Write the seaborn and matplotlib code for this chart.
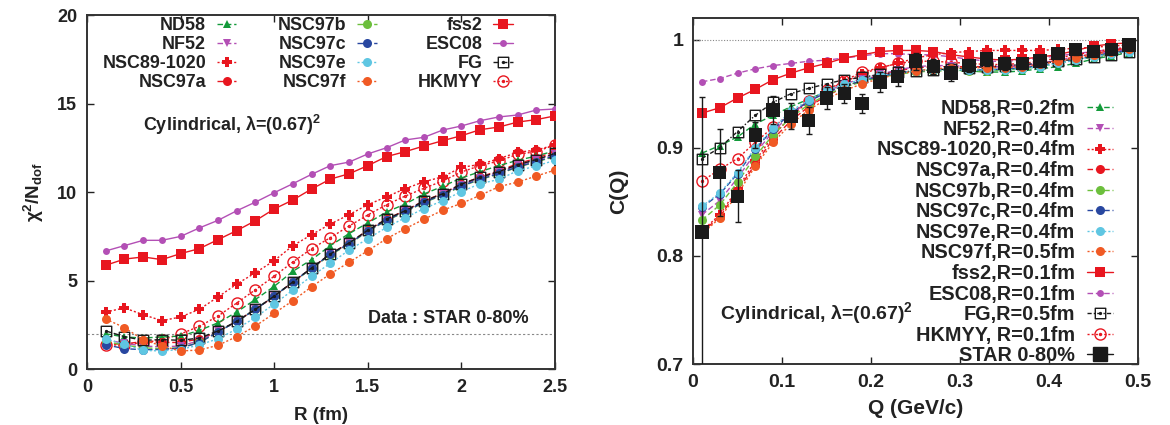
import matplotlib
matplotlib.use("Agg")
import matplotlib.pyplot as plt
from matplotlib.lines import Line2D
from matplotlib.path import Path
import seaborn as sns

# ---------------- chi^2 / N_dof versus source radius R ----------------
R = [0.1, 0.2, 0.3, 0.4, 0.5, 0.6, 0.7, 0.8, 0.9, 1.0, 1.1, 1.2, 1.3,
     1.4, 1.5, 1.6, 1.7, 1.8, 1.9, 2.0, 2.1, 2.2, 2.3, 2.4, 2.5]

chi_ND58 = [1.99, 1.81, 1.75, 1.81, 1.86, 2.18, 2.61, 3.22, 3.93, 4.67, 5.52, 6.18, 6.97,
            7.65, 8.25, 8.87, 9.32, 9.89, 10.32, 10.79, 11.15, 11.49, 11.79, 12.03, 12.33]
chi_NF52 = [1.65, 1.45, 1.30, 1.25, 1.30, 1.60, 2.12, 2.70, 3.38, 4.10, 4.90, 5.70, 6.48,
            7.10, 7.82, 8.44, 8.92, 9.46, 9.88, 10.42, 10.80, 11.12, 11.50, 11.80, 12.15]
chi_NSC89 = [3.22, 3.45, 3.07, 2.73, 2.94, 3.37, 4.07, 4.80, 5.44, 6.12, 6.97, 7.59, 8.19,
             8.72, 9.28, 9.73, 10.19, 10.58, 10.86, 11.39, 11.56, 11.88, 12.24, 12.37, 12.66]
chi_NSC97a = [1.40, 1.42, 1.55, 1.50, 1.50, 1.70, 2.10, 2.70, 3.38, 4.10, 4.92, 5.70, 6.50,
              7.12, 7.84, 8.47, 8.96, 9.50, 9.92, 10.45, 10.85, 11.20, 11.60, 11.90, 12.30]
chi_NSC97b = [1.55, 1.35, 1.20, 1.15, 1.20, 1.50, 2.10, 2.70, 3.38, 4.12, 4.90, 5.68, 6.45,
              7.05, 7.78, 8.38, 8.88, 9.40, 9.82, 10.32, 10.70, 11.02, 11.40, 11.70, 12.00]
chi_NSC97c = [1.37, 1.15, 1.09, 1.10, 1.19, 1.49, 2.09, 2.69, 3.37, 4.12, 4.92, 5.70, 6.48,
              7.08, 7.80, 8.40, 8.90, 9.42, 9.85, 10.35, 10.72, 11.05, 11.42, 11.72, 12.05]
chi_NSC97e = [1.71, 1.39, 1.05, 1.02, 1.10, 1.36, 1.71, 2.26, 2.92, 3.67, 4.46, 5.25, 5.97,
              6.72, 7.36, 8.00, 8.55, 9.06, 9.51, 10.02, 10.47, 10.71, 11.20, 11.47, 11.79]
chi_NSC97f = [2.82, 2.34, 1.65, 1.30, 1.02, 1.07, 1.34, 1.83, 2.43, 3.15, 3.86, 4.65, 5.37,
              6.03, 6.68, 7.36, 7.93, 8.46, 8.97, 9.36, 9.81, 10.30, 10.56, 10.90, 11.24]
chi_fss2 = [5.86, 6.21, 6.33, 6.18, 6.52, 6.80, 7.31, 7.82, 8.38, 9.04, 9.55, 10.17, 10.73,
            11.03, 11.49, 12.00, 12.28, 12.60, 12.90, 13.18, 13.52, 13.67, 13.95, 14.09, 14.30]
chi_ESC08 = [6.67, 6.97, 7.27, 7.27, 7.49, 7.97, 8.40, 8.94, 9.43, 9.96, 10.47, 11.00, 11.49,
             11.69, 12.15, 12.50, 12.94, 13.09, 13.50, 13.73, 14.03, 14.24, 14.35, 14.63, 14.69]
chi_FG = [2.15, 1.83, 1.62, 1.66, 1.62, 1.75, 2.15, 2.69, 3.37, 4.12, 4.92, 5.71, 6.50,
          7.12, 7.84, 8.47, 8.94, 9.49, 9.90, 10.45, 10.83, 11.15, 11.54, 11.83, 12.18]
chi_HKMYY = [1.35, 1.37, 1.50, 1.64, 1.98, 2.41, 2.99, 3.73, 4.48, 5.24, 6.05, 6.80, 7.42,
             8.08, 8.70, 9.28, 9.77, 10.21, 10.62, 11.13, 11.49, 11.75, 12.13, 12.28, 12.66]

# ---------------- correlation function C(Q) ----------------
Q = [0.01, 0.03, 0.05, 0.07, 0.09, 0.11, 0.13, 0.15, 0.17, 0.19, 0.21, 0.23, 0.25,
     0.27, 0.29, 0.31, 0.33, 0.35, 0.37, 0.39, 0.41, 0.43, 0.45, 0.47, 0.49]

c_ND58 = [0.895, 0.902, 0.910, 0.922, 0.930, 0.938, 0.945, 0.952, 0.957, 0.962, 0.966, 0.969, 0.971,
          0.972, 0.972, 0.971, 0.970, 0.970, 0.971, 0.973, 0.975, 0.978, 0.982, 0.985, 0.988]
c_NF52 = [0.838, 0.851, 0.872, 0.895, 0.915, 0.931, 0.943, 0.952, 0.959, 0.964, 0.968, 0.972, 0.975,
          0.976, 0.976, 0.975, 0.975, 0.975, 0.976, 0.978, 0.981, 0.984, 0.987, 0.989, 0.991]
c_NSC89 = [0.823, 0.838, 0.862, 0.888, 0.911, 0.929, 0.943, 0.953, 0.961, 0.968, 0.974, 0.978, 0.983,
           0.986, 0.988, 0.989, 0.990, 0.990, 0.990, 0.990, 0.991, 0.992, 0.993, 0.994, 0.995]
c_NSC97a = [0.822, 0.836, 0.860, 0.885, 0.908, 0.925, 0.938, 0.948, 0.956, 0.962, 0.967, 0.971, 0.974,
            0.975, 0.975, 0.975, 0.975, 0.975, 0.976, 0.978, 0.981, 0.984, 0.987, 0.990, 0.992]
c_NSC97b = [0.833, 0.847, 0.868, 0.892, 0.912, 0.928, 0.940, 0.949, 0.956, 0.961, 0.965, 0.968, 0.970,
            0.971, 0.971, 0.971, 0.971, 0.972, 0.973, 0.975, 0.978, 0.981, 0.984, 0.987, 0.990]
c_NSC97c = [0.845, 0.857, 0.876, 0.899, 0.917, 0.932, 0.943, 0.951, 0.957, 0.962, 0.966, 0.969, 0.971,
            0.972, 0.972, 0.972, 0.972, 0.973, 0.974, 0.976, 0.979, 0.982, 0.985, 0.988, 0.990]
c_NSC97e = [0.846, 0.858, 0.877, 0.900, 0.918, 0.934, 0.944, 0.953, 0.959, 0.963, 0.967, 0.969, 0.971,
            0.972, 0.972, 0.972, 0.972, 0.972, 0.973, 0.975, 0.978, 0.981, 0.984, 0.987, 0.989]
c_NSC97f = [0.820, 0.835, 0.857, 0.883, 0.905, 0.922, 0.935, 0.945, 0.953, 0.959, 0.964, 0.968, 0.971,
            0.973, 0.974, 0.974, 0.974, 0.974, 0.975, 0.977, 0.980, 0.983, 0.986, 0.989, 0.991]
c_fss2 = [0.932, 0.937, 0.946, 0.954, 0.963, 0.969, 0.974, 0.978, 0.983, 0.986, 0.989, 0.990, 0.990,
          0.989, 0.986, 0.984, 0.982, 0.981, 0.982, 0.984, 0.986, 0.990, 0.994, 0.996, 0.997]
c_ESC08 = [0.961, 0.964, 0.969, 0.973, 0.976, 0.978, 0.980, 0.981, 0.983, 0.985, 0.987, 0.987, 0.986,
           0.986, 0.984, 0.982, 0.980, 0.980, 0.981, 0.983, 0.985, 0.987, 0.989, 0.991, 0.993]
c_FG = [0.890, 0.900, 0.915, 0.930, 0.942, 0.950, 0.955, 0.959, 0.963, 0.965, 0.968, 0.970, 0.971,
        0.972, 0.973, 0.974, 0.975, 0.976, 0.977, 0.978, 0.980, 0.982, 0.984, 0.986, 0.989]
c_HKMYY = [0.869, 0.880, 0.890, 0.905, 0.919, 0.932, 0.943, 0.953, 0.962, 0.970, 0.974, 0.978, 0.980,
           0.980, 0.979, 0.978, 0.977, 0.977, 0.978, 0.980, 0.983, 0.986, 0.989, 0.991, 0.993]

star_C = [0.822, 0.877, 0.855, 0.912, 0.935, 0.929, 0.925, 0.946, 0.950, 0.941, 0.961, 0.966, 0.980,
          0.975, 0.969, 0.976, 0.982, 0.978, 0.978, 0.980, 0.987, 0.991, 0.989, 0.991, 0.995]
star_err = [0.125, 0.040, 0.024, 0.012, 0.013, 0.012, 0.0125, 0.010, 0.009, 0.009, 0.009, 0.009, 0.008,
            0.007, 0.007, 0.006, 0.006, 0.006, 0.005, 0.005, 0.005, 0.005, 0.004, 0.004, 0.004]

left_labels = ["ND58", "NF52", "NSC89-1020", "NSC97a", "NSC97b", "NSC97c",
               "NSC97e", "NSC97f", "fss2", "ESC08", "FG", "HKMYY"]
right_labels = ["ND58,R=0.2fm", "NF52,R=0.4fm", "NSC89-1020,R=0.4fm", "NSC97a,R=0.4fm",
                "NSC97b,R=0.4fm", "NSC97c,R=0.4fm", "NSC97e,R=0.4fm", "NSC97f,R=0.5fm",
                "fss2,R=0.1fm", "ESC08,R=0.1fm", "FG,R=0.5fm", "HKMYY, R=0.1fm"]
chi_series = [chi_ND58, chi_NF52, chi_NSC89, chi_NSC97a, chi_NSC97b, chi_NSC97c,
              chi_NSC97e, chi_NSC97f, chi_fss2, chi_ESC08, chi_FG, chi_HKMYY]
c_series = [c_ND58, c_NF52, c_NSC89, c_NSC97a, c_NSC97b, c_NSC97c,
            c_NSC97e, c_NSC97f, c_fss2, c_ESC08, c_FG, c_HKMYY]

# ---------------- styles ----------------
RED = "#e8161f"
PURPLE = "#b34fb5"
DASH = (0, (4, 2))
DOT = (0, (1.5, 1.5))
DASHDOT = (0, (3, 1.5, 1, 1.5))

square_dot = Path.make_compound_path(
    Path([(-1, -1), (1, -1), (1, 1), (-1, 1), (-1, -1)],
         [Path.MOVETO, Path.LINETO, Path.LINETO, Path.LINETO, Path.CLOSEPOLY]),
    Path.circle((0, 0), 0.18))
circle_dot = Path.make_compound_path(Path.unit_circle(), Path.circle((0, 0), 0.18))

styles = [
    dict(color="#129a3a", marker="^", ls=DASH, ms=6, open=False),      # ND58
    dict(color=PURPLE, marker="v", ls=DASH, ms=6, open=False),          # NF52
    dict(color=RED, marker="P", ls=DOT, ms=6.5, open=False),            # NSC89-1020
    dict(color=RED, marker="o", ls=DASH, ms=6.5, open=False),           # NSC97a
    dict(color="#6cbf3c", marker="o", ls=DASH, ms=6.5, open=False),     # NSC97b
    dict(color="#2847a0", marker="o", ls=DASH, ms=6.5, open=False),     # NSC97c
    dict(color="#5fc6e2", marker="o", ls=DOT, ms=6.5, open=False),      # NSC97e
    dict(color="#f05a24", marker="o", ls=DOT, ms=6.5, open=False),      # NSC97f
    dict(color=RED, marker="s", ls="-", ms=7, open=False),              # fss2
    dict(color=PURPLE, marker="o", ls="-", ms=5, open=False),           # ESC08
    dict(color="#1a1a1a", marker=square_dot, ls=DASH, ms=7.5, open=True),  # FG
    dict(color=RED, marker=circle_dot, ls=DOT, ms=8, open=True),        # HKMYY
]

sns.set_theme(style="ticks")
plt.rcParams.update({
    "font.family": ["Liberation Sans", "DejaVu Sans"],
    "font.weight": "bold",
    "axes.labelweight": "bold",
    "mathtext.fontset": "custom",
    "mathtext.rm": "Liberation Sans:bold",
    "mathtext.it": "Liberation Sans:bold",
    "mathtext.bf": "Liberation Sans:bold",
    "mathtext.default": "bf",
    "xtick.direction": "in",
    "ytick.direction": "in",
    "xtick.top": True,
    "ytick.right": True,
    "xtick.major.size": 5,
    "ytick.major.size": 5,
    "xtick.major.width": 1.0,
    "ytick.major.width": 1.0,
    "xtick.color": "#222222",
    "ytick.color": "#222222",
    "axes.edgecolor": "#333333",
    "axes.linewidth": 1.4,
    "text.color": "#222222",
    "axes.labelcolor": "#222222",
})

fig = plt.figure(figsize=(11.7, 4.25), dpi=100)
axL = fig.add_axes([87 / 1170, 1 - 369 / 425, 468 / 1170, 354 / 425])
axR = fig.add_axes([693 / 1170, 1 - 364 / 425, 445 / 1170, 346 / 425])


def draw(ax, xvals, yvals, st, lw=1.0, zorder=3):
    face = "none" if st["open"] else st["color"]
    sns.lineplot(x=xvals, y=yvals, ax=ax, color=st["color"], marker=st["marker"],
                 markersize=st["ms"], linestyle=st["ls"], linewidth=lw,
                 markerfacecolor=face, markeredgecolor=st["color"],
                 markeredgewidth=1.0 if st["open"] else 0.0,
                 legend=False, zorder=zorder, estimator=None, sort=False)


def proxy(st, lw=1.0):
    face = "none" if st["open"] else st["color"]
    return Line2D([], [], color=st["color"], marker=st["marker"], markersize=st["ms"],
                  linestyle=st["ls"], linewidth=lw, markerfacecolor=face,
                  markeredgecolor=st["color"],
                  markeredgewidth=1.0 if st["open"] else 0.0)


# ---- left panel ----
axL.axhline(2.0, color="#888888", lw=0.8, ls=(0, (2, 2)), zorder=1)
order = [9, 8, 2, 11, 0, 3, 1, 4, 5, 10, 6, 7]
for i in order:
    draw(axL, R, chi_series[i], styles[i])

axL.set_xlim(0, 2.5)
axL.set_ylim(0, 20)
axL.set_xticks([0, 0.5, 1, 1.5, 2, 2.5])
axL.set_xticklabels(["0", "0.5", "1", "1.5", "2", "2.5"])
axL.set_yticks([0, 5, 10, 15, 20])
axL.tick_params(labelsize=13, pad=7)
axL.set_xlabel("R (fm)", fontsize=13.5, labelpad=8)
axL.set_ylabel(r"$\chi^2$/N$_{dof}$", fontsize=13.5, labelpad=8)
axL.text(0.3, 13.8, "Cylindrical, λ=(0.67)$^2$", fontsize=13, va="center", ha="left")
axL.text(1.5, 2.88, "Data : STAR 0-80%", fontsize=13, va="center", ha="left")

legL = axL.legend([proxy(s) for s in styles], left_labels, ncol=3, markerfirst=False,
                  loc="upper left", bbox_to_anchor=(0.025, 1.005), frameon=False,
                  fontsize=12.9, handlelength=1.1, handletextpad=0.6,
                  columnspacing=2.3, labelspacing=0.12, borderpad=0.2, borderaxespad=0)

# ---- right panel ----
axR.axhline(1.0, color="#888888", lw=0.8, ls=(0, (1, 1.5)), zorder=1)
r_styles = [dict(s) for s in styles]
r_styles[9]["ls"] = DASH          # ESC08 drawn dashed here
r_styles[10]["ls"] = DASHDOT      # FG
for i in order:
    draw(axR, Q, c_series[i], r_styles[i])

axR.errorbar(Q, star_C, yerr=star_err, fmt="none", ecolor="#1a1a1a",
             elinewidth=1.0, capsize=2.5, capthick=1.0, zorder=9)
sns.scatterplot(x=Q, y=star_C, ax=axR, marker="s", s=95, color="#1a1a1a",
                edgecolor="none", zorder=10, legend=False)

axR.set_xlim(0, 0.5)
axR.set_ylim(0.7, 1.02)
axR.set_xticks([0, 0.1, 0.2, 0.3, 0.4, 0.5])
axR.set_xticklabels(["0", "0.1", "0.2", "0.3", "0.4", "0.5"])
axR.set_yticks([0.7, 0.8, 0.9, 1.0])
axR.set_yticklabels(["0.7", "0.8", "0.9", "1"])
axR.tick_params(labelsize=14, pad=7)
axR.set_xlabel("Q (GeV/c)", fontsize=15, labelpad=6)
axR.set_ylabel("C(Q)", fontsize=15, labelpad=20)
axR.text(0.0303, 0.7472, "Cylindrical, λ=(0.67)$^2$", fontsize=14, va="center", ha="left")

star_proxy = Line2D([], [], color="#1a1a1a", marker="s", markersize=9.5, linestyle="-",
                    linewidth=1.0)
legR = axR.legend([proxy(s) for s in r_styles] + [star_proxy], right_labels + ["STAR 0-80%"],
                  markerfirst=False, loc="upper right", bbox_to_anchor=(0.944, 0.765),
                  frameon=False, fontsize=14.3, handlelength=1.3, handletextpad=0.6,
                  labelspacing=0.08, borderpad=0.0, borderaxespad=0)

fig.savefig("out.png", dpi=100)
